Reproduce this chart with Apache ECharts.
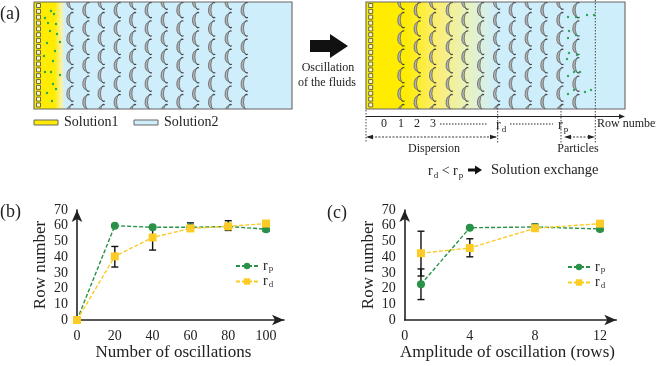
<!DOCTYPE html>
<html><head><meta charset="utf-8">
<style>html,body{margin:0;padding:0;background:#fff}#c{width:656px;height:366px}</style>
<script src="https://cdn.jsdelivr.net/npm/echarts@6/dist/echarts.min.js"></script>
</head><body><div id="c"></div>
<script>
// Panel (b)
const oscillations = [0, 20, 40, 60, 80, 100];
const oscRp = [0, 60, 59, 59, 59.5, 57.8];
const oscRd = [0, 40.5, 52.5, 58.3, 59.6, 61.4];
const oscErrors = [[20, 33.7, 46.8], [40, 44.5, 60], [60, 57.5, 61.8], [80, 57, 63.2], [100, 56.4, 59.8]];
// Panel (c)
const amplitudes = [1, 4, 8, 12];
const ampRp = [22.7, 58.7, 59.2, 57.9];
const ampRd = [42.5, 45.8, 58.4, 61.3];
const ampErrors = [[1, 13, 32.5], [1, 28, 56.5], [4, 40.2, 51.7], [8, 57.5, 61], [12, 56.8, 59]];
// Schematic particles
const leftParticles = [[51,11],[54,14],[45,18],[48,23],[56,24],[50,31],[57,34],[60,42],[47,43],[55,51],[44,56],[53,61],[45,72],[51,72],[60,75],[53,84],[56,89],[47,93],[52,101]];
const rightParticles = [[568,17],[576,17],[587,15],[594,15],[569,31],[576,35],[568,38],[569,53],[577,55],[567,59],[574,72],[580,72],[568,76],[574,90],[568,94],[585,92],[591,90]];

const FONT = 'Liberation Serif';
const BLACK = '#222', GREEN = '#2a9148', YELLOW = '#fdcb25';
const g = [];
const rich = { r:{fontFamily:FONT,fontSize:14,fill:BLACK,color:BLACK}, s:{fontFamily:FONT,fontSize:9,color:BLACK,fill:BLACK,verticalAlign:'bottom',padding:[9,0,0,1]} };
function text(t,x,y,size,align,extra){ g.push({type:'text',z:10,x,y,style:Object.assign({text:t,fontFamily:FONT,fontSize:size,fill:BLACK,align:align||'left',verticalAlign:'middle'},extra||{})}); }
function line(x1,y1,x2,y2,w,dash,col){ g.push({type:'line',z:9,shape:{x1,y1,x2,y2},style:{stroke:col||BLACK,lineWidth:w||1,lineDash:dash||null}}); }
function poly(pts,fill,z){ g.push({type:'polygon',z:z||9,shape:{points:pts},style:{fill}}); }

function chamber(x0,x1,stops,cols,sq,parts){
  const y0=2,y1=109;
  g.push({type:'rect',z:1,shape:{x:x0,y:y0,width:x1-x0,height:y1-y0},style:{fill:{type:'linear',x:0,y:0,x2:1,y2:0,colorStops:stops}}});
  cols.forEach((cx,i)=>{
    for(let k=-1;k<6;k++){
      const cy=(i%2===0?20:10)+18.4*k;
      const P=p=>p.map(q=>[cx+q[0],cy+q[1]]);
      g.push({type:'polygon',z:2,shape:{points:P([[0.5,-6.5],[-1.8,-5],[-3,-2],[-3.2,2],[-2,5],[0.5,6.5],[-.4,3],[-.8,0],[-.4,-3]])},style:{fill:'#b4b4b4',stroke:'#555',lineWidth:.7}});
      g.push({type:'polyline',z:2,shape:{points:P([[0.5,-6.5],[2,-7.6],[3.4,-7.4]])},style:{stroke:'#444',lineWidth:1.1,fill:'none'}});
      g.push({type:'polyline',z:2,shape:{points:P([[0.5,6.5],[2,7.8],[3.6,7.4]])},style:{stroke:'#444',lineWidth:1.1,fill:'none'}});
    }
  });
  g.push({type:'rect',z:3,shape:{x:x0-8,y:0,width:x1-x0+16,height:y0},style:{fill:'#fff'}});
  g.push({type:'rect',z:3,shape:{x:x0-8,y:y1,width:x1-x0+16,height:14},style:{fill:'#fff'}});
  for(let k=0;k<18;k++) g.push({type:'rect',z:4,shape:{x:sq,y:3.5+k*5.85,width:4,height:4},style:{fill:'#fff8c8',stroke:'#5a5a38',lineWidth:.9}});
  parts.forEach(p=>g.push({type:'circle',z:4,shape:{cx:p[0],cy:p[1],r:1.2},style:{fill:'#2ba85a'}}));
  g.push({type:'rect',z:5,shape:{x:x0,y:y0,width:x1-x0,height:y1-y0},style:{fill:'none',stroke:'#666',lineWidth:1.1}});
}
const BLUE='#cfeefb', Y='#ffec00';
const colsL=[70,86,101.3,117.3,132.7,148.3,164.3,180,195.7,211.7,228.3,244.3];
const colsR=[401,417.3,432.7,449.3,465,480.7,496.7,512.3,528.3,544,560,576];
chamber(34,292,[{offset:0,color:Y},{offset:.08,color:Y},{offset:.105,color:'#fbf2a0'},{offset:.12,color:BLUE},{offset:1,color:BLUE}],colsL,36.5,leftParticles);
chamber(366,625,[{offset:0,color:Y},{offset:.15,color:Y},{offset:.28,color:'#fbee78'},{offset:.4,color:'#e6f2c4'},{offset:.5,color:BLUE},{offset:1,color:BLUE}],colsR,368.7,rightParticles);

// Legend of the schematic
g.push({type:'rect',z:5,shape:{x:34,y:120,width:24,height:5},style:{fill:Y,stroke:'#666',lineWidth:1}});
g.push({type:'rect',z:5,shape:{x:134,y:120,width:24,height:5},style:{fill:BLUE,stroke:'#666',lineWidth:1}});
text('Solution1',64,122,14); text('Solution2',164,122,14);

// Big arrow
poly([[310,40],[330,40],[330,34],[348,46],[330,58],[330,52],[310,52]],'#111');
text('Oscillation',328,68,12,'center'); text('of the fluids',327,83,12,'center');

// Row number scale
line(366,116.5,621,116.5,1); poly([[625,116.5],[619,114],[619,119]],BLACK);
const DOT=[1.5,1.5];
line(366,110,366,143,1,DOT,'#444'); line(497.7,105,497.7,143,1,DOT,'#444'); line(561,105,561,143,1,DOT,'#444'); line(595.3,0,595.3,143,1,DOT,'#444');
[['0',384],['1',401],['2',417],['3',433]].forEach(a=>text(a[0],a[1],124,12,'center'));
line(440,124,488,124,1.2,[1.5,1.5]); line(510,124,553,124,1.2,[1.5,1.5]);
text('{r|r}{s|d}',496,125,14,'left',{rich});
text('{r|r}{s|p}',558,125,14,'left',{rich});
text('Row number',597,124,12);
line(368,137,496,137,.9,[2,1.5]); poly([[366,137],[373,134.8],[373,139.2]],BLACK); poly([[497,137],[490,134.8],[490,139.2]],BLACK);
line(566,137,594,137,.9,[2,1.5]); poly([[564,137],[571,134.8],[571,139.2]],BLACK); poly([[595,137],[588,134.8],[588,139.2]],BLACK);
text('Dispersion',434,149,12,'center'); text('Particles',578,149,12,'center');
text('{r|r}{s|d}{r| < r}{s|p}',428,171,14,'left',{rich});
poly([[468,168.5],[475,168.5],[475,165.5],[482,170],[475,174.5],[475,171.5],[468,171.5]],'#111');
text('Solution exchange',491,170,14.5);

// Panel letters
text('(a)',0,14,18); text('(b)',0,212,18); text('(c)',327,213,18);

const subRich={r:{fontFamily:FONT,fontSize:14,color:BLACK},s:{fontFamily:FONT,fontSize:9,color:'#333',padding:[6,0,0,1]}};
function xAxis(i,min,max,interval,name,pad){return {gridIndex:i,type:'value',min,max,interval,name,nameLocation:'middle',nameGap:22,
  nameTextStyle:{fontFamily:FONT,fontSize:17,color:BLACK,padding:pad},
  axisLine:{onZero:false,lineStyle:{color:BLACK,width:1.6},symbol:['none','arrow'],symbolSize:[8,12]},axisTick:{show:false},splitLine:{show:false},
  axisLabel:{fontFamily:FONT,fontSize:14,color:BLACK,margin:9,showMaxLabel:false,showMinLabel:true}};}
function yAxis(i){return {gridIndex:i,type:'value',min:0,max:70,interval:10,name:'Row number',nameLocation:'middle',nameGap:28,nameRotate:90,
  nameTextStyle:{fontFamily:FONT,fontSize:17,color:BLACK},
  axisLine:{show:true,onZero:false,lineStyle:{color:BLACK,width:1.6},symbol:['none','arrow'],symbolSize:[8,12]},axisTick:{show:false},splitLine:{show:false},
  axisLabel:{fontFamily:FONT,fontSize:14,color:BLACK,margin:9,showMinLabel:true,showMaxLabel:true}};}
function errSeries(i,data){return {type:'custom',xAxisIndex:i,yAxisIndex:i,z:2,silent:true,clip:false,data,encode:{x:0,y:[1,2]},
  renderItem(p,api){const a=api.coord([api.value(0),api.value(1)]),b=api.coord([api.value(0),api.value(2)]),c=3.5;
    const s={stroke:'#111',lineWidth:1.4};
    return {type:'group',children:[
      {type:'line',shape:{x1:a[0],y1:a[1],x2:b[0],y2:b[1]},style:s},
      {type:'line',shape:{x1:a[0]-c,y1:a[1],x2:a[0]+c,y2:a[1]},style:s},
      {type:'line',shape:{x1:b[0]-c,y1:b[1],x2:b[0]+c,y2:b[1]},style:s}]};}};}
function lineSeries(i,name,xs,ys,color,symbol,size,z){return {type:'line',name,xAxisIndex:i,yAxisIndex:i,z,clip:false,data:xs.map((x,k)=>[x,ys[k]]),
  symbol,symbolSize:size,showSymbol:true,lineStyle:{color,width:1.4,type:[4,2]},itemStyle:{color}};}
function legend(left,top){return {orient:'vertical',left,top,padding:0,itemWidth:22,itemHeight:8,itemGap:1,selectedMode:false,data:['rp','rd'],
  formatter:n=>n==='rp'?'{r|r}{s|p}':'{r|r}{s|d}',textStyle:{rich:subRich}};}

const chart=echarts.init(document.getElementById('c'),null,{renderer:'canvas'});
chart.setOption({animation:false,backgroundColor:'#fff',
  grid:[{left:77,top:210,width:207,height:110,containLabel:false},{left:404.7,top:210,width:211.6,height:110}],
  xAxis:[xAxis(0,0,109.5,20,'Number of oscillations',[0,14,0,0]),xAxis(1,0,13,4,'Amplitude of oscillation (rows)',[0,6,0,0])],
  yAxis:[yAxis(0),yAxis(1)],
  legend:[legend(235,259),legend(567,260)],
  series:[errSeries(0,oscErrors),errSeries(1,ampErrors),
    lineSeries(0,'rp',oscillations,oscRp,GREEN,'circle',8,3),lineSeries(0,'rd',oscillations,oscRd,YELLOW,'rect',8,4),
    lineSeries(1,'rp',amplitudes,ampRp,GREEN,'circle',8,3),lineSeries(1,'rd',amplitudes,ampRd,YELLOW,'rect',8,4)],
  graphic:{elements:g}
});
</script></body></html>
